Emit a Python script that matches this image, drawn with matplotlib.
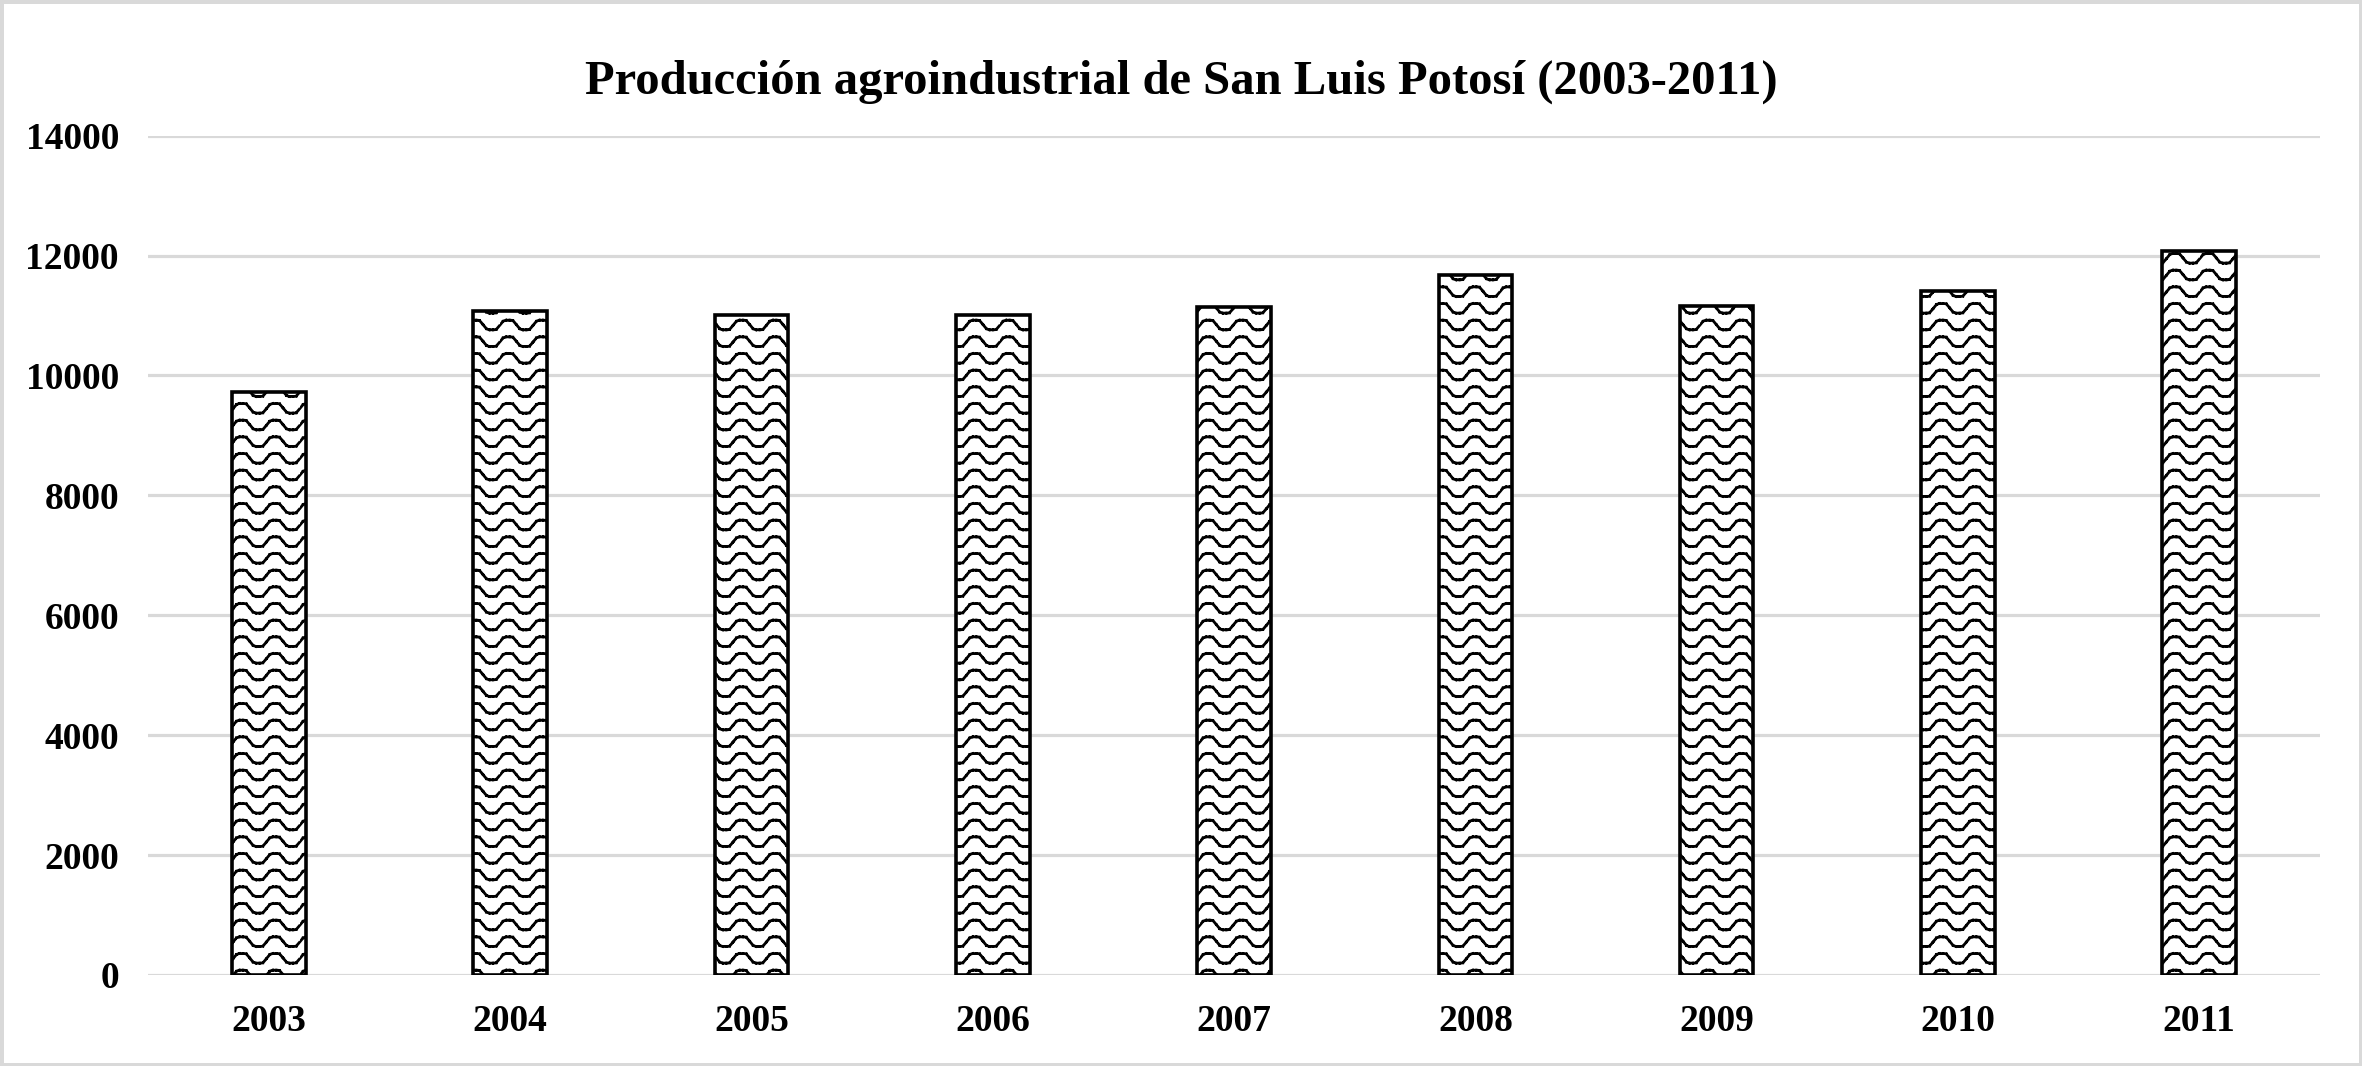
import warnings
import numpy as np
import matplotlib
matplotlib.use('Agg')
import matplotlib.pyplot as plt
import matplotlib.hatch as mhatch
from matplotlib.path import Path

warnings.filterwarnings('ignore')

years = ['2003', '2004', '2005', '2006', '2007', '2008', '2009', '2010', '2011']
produccion = [9730, 11070, 11000, 11000, 11140, 11680, 11150, 11410, 12080]
yticks = [0, 2000, 4000, 6000, 8000, 10000, 12000, 14000]


class WaveHatch(mhatch.HatchPatternBase):
    """wavy hatch made of short dashes, drawn for the '~' character"""
    def __init__(self, hatch, density):
        self.num_rows = hatch.count('~') * 6
        self.periods = 3
        self.seg = 10  # dashes per period
        self.num_vertices = self.num_rows * self.periods * self.seg * 2

    def set_vertices_and_codes(self, vertices, codes):
        nseg = self.periods * self.seg
        t0 = np.arange(nseg) / nseg
        t1 = t0 + 0.8 / nseg  # dash length, rest is a gap
        def wave(t):
            # flattened sine, close to the trapezoid wave of the original
            s = np.sin(2 * np.pi * self.periods * t)
            return 0.048 * np.clip(1.4 * s, -1, 1)
        rows = (np.arange(self.num_rows) + 0.5) / self.num_rows
        k = 0
        for r in rows:
            for a, b in zip(t0, t1):
                vertices[k] = (a, r + wave(a))
                vertices[k + 1] = (b, r + wave(b))
                codes[k] = Path.MOVETO
                codes[k + 1] = Path.LINETO
                k += 2


mhatch._hatch_types.append(WaveHatch)

plt.rcParams['font.family'] = 'Liberation Serif'
plt.rcParams['font.weight'] = 'bold'
plt.rcParams['hatch.linewidth'] = 2.0
plt.rcParams['hatch.color'] = 'black'

fig = plt.figure(figsize=(23.62, 10.66), dpi=100, edgecolor='#d9d9d9', linewidth=5)
ax = fig.add_axes([0.0627, 0.0854, 0.9195, 0.7874])

x = np.arange(len(years))
ax.bar(x, produccion, width=0.305, color='white', edgecolor='black',
       linewidth=2.6, hatch='~', zorder=3)

ax.set_xlim(-0.5, len(years) - 0.5)
ax.set_ylim(0, 14000)
ax.set_yticks(yticks)
ax.set_yticklabels([str(v) for v in yticks])
ax.set_xticks(x)
ax.set_xticklabels(years)
ax.tick_params(axis='both', length=0, labelsize=27)
ax.tick_params(axis='y', pad=21)
ax.tick_params(axis='x', pad=21)
ax.grid(axis='y', color='#d9d9d9', linewidth=2.3, zorder=0)
for s in ax.spines.values():
    s.set_visible(False)

fig.suptitle('Producción agroindustrial de San Luis Potosí (2003-2011)',
             fontsize=35, fontweight='bold', y=0.944)

plt.savefig('out.png', dpi=100)
